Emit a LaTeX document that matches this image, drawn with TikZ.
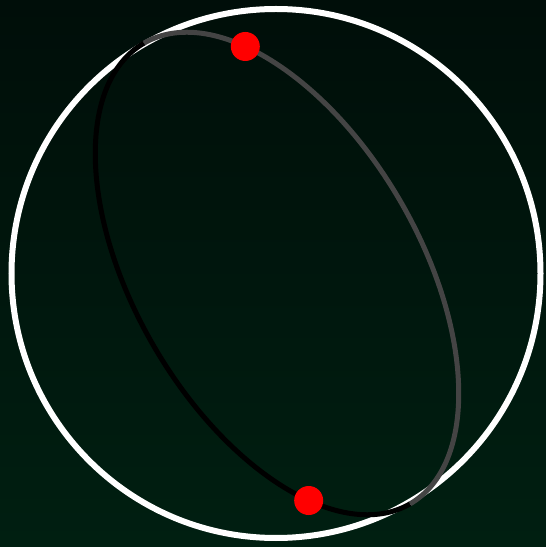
\documentclass[tikz,border=0pt]{standalone}
\usepackage{tikz}
\definecolor{bgtop}{RGB}{0,14,9}
\definecolor{bgbot}{RGB}{0,31,17}
\definecolor{backarc}{RGB}{68,68,68}

\begin{document}
\begin{tikzpicture}[x=1pt, y=1pt,
    rim/.style={white, line width=6pt},
    frontarc/.style={black, line width=5pt},
    hidden/.style={backarc, line width=5pt},
    dot/.style={circle, fill=red, inner sep=0pt, minimum size=29pt}]
    % Background
    \shade[top color=bgtop, bottom color=bgbot] (0,0) rectangle (546,547);
    \useasboundingbox (0,0) rectangle (546,547);

    % Sphere outline
    \draw[rim] (276,273.5) circle (264.5);

    % Great circle (tilted)
    \begin{scope}[shift={(277,273.5)}, rotate=-60]
        \draw[hidden] (0:266 and 143) arc[start angle=0, end angle=180, x radius=266, y radius=143];
        \draw[frontarc] (180:266 and 143) arc[start angle=180, end angle=360, x radius=266, y radius=143];

        % Antipodal points
        \node[dot] (pA) at (143:266 and 143) {};
        \node[dot] (pB) at (323:266 and 143) {};
    \end{scope}
\end{tikzpicture}
\end{document}
